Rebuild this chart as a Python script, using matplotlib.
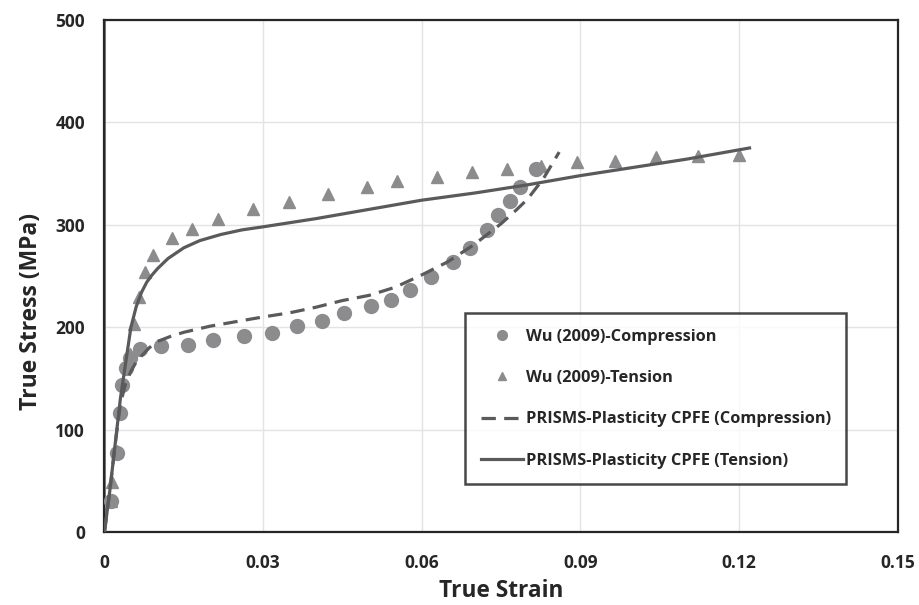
import numpy as np
import matplotlib.pyplot as plt

plt.rcParams['font.family'] = ['Open Sans', 'DejaVu Sans']
plt.rcParams['font.weight'] = 'bold'

# Experimental data, Wu (2009)
comp_strain = [0.0013, 0.0024, 0.0030, 0.0033, 0.0040, 0.0048, 0.0068, 0.0106,
               0.0158, 0.0206, 0.0263, 0.0316, 0.0365, 0.0412, 0.0453, 0.0505,
               0.0541, 0.0578, 0.0617, 0.0660, 0.0692, 0.0723, 0.0745, 0.0767,
               0.0786, 0.0816]
comp_stress = [30, 77, 116, 144, 160, 170, 179, 182, 183, 187.5, 191.5, 194,
               201, 206, 214, 221, 227, 236.5, 248.7, 264, 277, 295, 310, 323,
               337, 354]

tens_strain = [0.0013, 0.0015, 0.0024, 0.0049, 0.0055, 0.0065, 0.0076, 0.0092,
               0.0127, 0.0165, 0.0214, 0.0281, 0.0349, 0.0422, 0.0496, 0.0554,
               0.0628, 0.0695, 0.0761, 0.0825, 0.0894, 0.0966, 0.1043, 0.1123,
               0.1200]
tens_stress = [30, 49, 79, 174, 203, 229, 254, 270, 287, 296, 306, 315, 322,
               330, 337, 342.5, 347, 351.6, 354, 357.5, 361, 362.5, 366, 367,
               368]

# CPFE simulation curves
cpfe_comp_strain = [0, 0.001, 0.002, 0.003, 0.004, 0.005, 0.006, 0.007, 0.0085,
                    0.010, 0.0125, 0.015, 0.020, 0.025, 0.030, 0.035, 0.040,
                    0.045, 0.050, 0.055, 0.060, 0.065, 0.070, 0.075, 0.078,
                    0.080, 0.083, 0.086]
cpfe_comp_stress = [0, 40, 85, 125, 145, 157, 166, 172, 180, 186, 191, 195,
                    201, 205.5, 210, 214, 219.5, 226, 231, 239, 251, 264, 281,
                    301, 315, 325, 345, 371]

cpfe_tens_strain = [0, 0.001, 0.002, 0.003, 0.004, 0.005, 0.006, 0.007, 0.008,
                    0.009, 0.010, 0.012, 0.015, 0.018, 0.022, 0.026, 0.030,
                    0.035, 0.040, 0.050, 0.060, 0.070, 0.080, 0.090, 0.100,
                    0.110, 0.122]
cpfe_tens_stress = [0, 40, 85, 130, 165, 200, 220, 234, 244, 251, 257, 267,
                    277.5, 284.5, 290.5, 295, 298, 302, 306, 315, 324, 331, 339,
                    348, 356, 364, 375]

fig = plt.figure(figsize=(9.19, 6.05), dpi=100)
ax = fig.add_axes([0.1137, 0.1207, 0.8630, 0.8463])

ax.plot(comp_strain, comp_stress, 'o', color='#8c8c8e', markersize=10,
        label='Wu (2009)-Compression', zorder=3)
ax.plot(tens_strain, tens_stress, '^', color='#8c8c8e', markersize=9,
        label='Wu (2009)-Tension', zorder=3)
ax.plot(cpfe_comp_strain, cpfe_comp_stress, color='#5a5a5c', lw=2.3,
        ls=(0, (4.5, 2.6)), label='PRISMS-Plasticity CPFE (Compression)', zorder=4)
ax.plot(cpfe_tens_strain, cpfe_tens_stress, color='#5a5a5c', lw=2.3,
        label='PRISMS-Plasticity CPFE (Tension)', zorder=4)

ax.set_xlim(0, 0.15)
ax.set_ylim(0, 500)
ax.set_xticks([0, 0.03, 0.06, 0.09, 0.12, 0.15])
ax.set_xticklabels(['0', '0.03', '0.06', '0.09', '0.12', '0.15'])
ax.set_yticks([0, 100, 200, 300, 400, 500])
ax.grid(color='#e3e3e3', lw=1)
ax.set_axisbelow(True)
ax.tick_params(length=0, labelsize=12.5, labelcolor='#262626')
ax.tick_params(axis='x', pad=16)
ax.tick_params(axis='y', pad=14)

for s in ax.spines.values():
    s.set_color('#262626')
    s.set_linewidth(1.6)
# gray axis lines along the bottom and left
ax.axhline(0, color='#7f7f7f', lw=2.2, zorder=2)
ax.axvline(0, color='#7f7f7f', lw=2.2, zorder=2)

ax.set_xlabel('True Strain', fontsize=16.3, fontweight='bold', color='#262626',
              labelpad=5)
ax.set_ylabel('True Stress (MPa)', fontsize=16.5, fontweight='bold',
              color='#262626')
ax.yaxis.set_label_coords(-0.078, 0.43)

leg = ax.legend(loc='upper left', bbox_to_anchor=(465 / 919, 1 - 313 / 605),
                bbox_transform=fig.transFigure, frameon=True,
                fancybox=False, edgecolor='#1a1a1a', handlelength=2.6,
                labelspacing=1.55, borderpad=0.95, handletextpad=0.15,
                markerscale=0.7, borderaxespad=0,
                prop={'weight': 'bold', 'size': 11.8})
leg.get_frame().set_linewidth(1.8)
for t in leg.get_texts():
    t.set_color('#262626')

fig.savefig('out.png', dpi=100)
